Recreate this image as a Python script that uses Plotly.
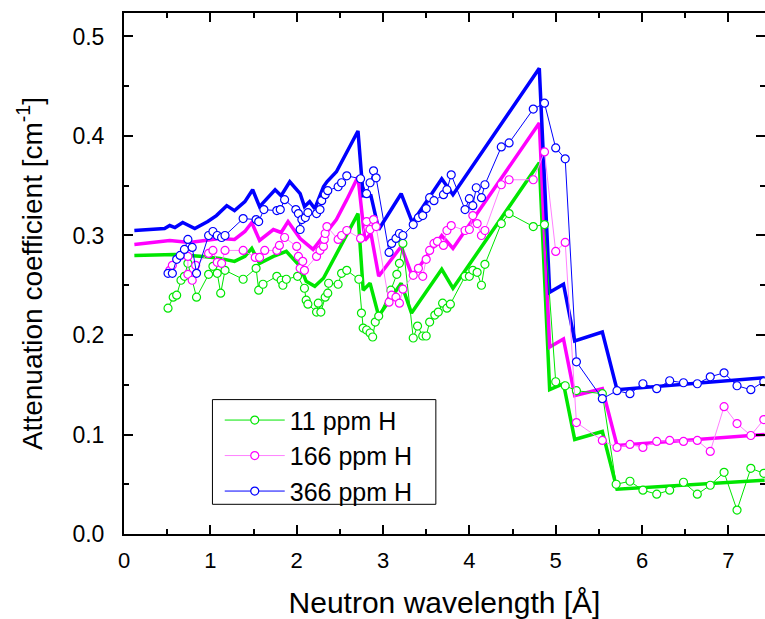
import plotly.graph_objects as go

# Theoretical (thick) curves
x_th_blue = [0.12,0.34,0.47,0.53,0.59,0.68,0.82,0.97,1.07,1.19,1.28,1.40,1.49,1.57,1.75,1.82,1.92,2.04,2.09,2.15,
             2.21,2.31,2.35,2.46,2.58,2.71,2.77,2.86,2.95,3.21,3.34,3.68,3.81,4.81,4.93,5.09,5.22,5.54,5.71,7.42]
y_th_blue = [0.305,0.306,0.307,0.310,0.308,0.313,0.307,0.314,0.320,0.330,0.325,0.334,0.346,0.329,0.346,0.340,0.354,0.342,0.329,0.334,
             0.327,0.349,0.354,0.364,0.383,0.405,0.340,0.340,0.306,0.342,0.313,0.357,0.341,0.468,0.243,0.251,0.194,0.203,0.145,0.157]
x_th_mag = [0.12,0.53,0.76,1.11,1.28,1.40,1.48,1.57,1.73,1.82,1.90,2.04,2.19,2.27,2.46,2.58,2.71,2.79,2.86,2.95,
            3.21,3.34,3.68,3.81,4.81,4.93,5.09,5.22,5.54,5.71,7.42]
y_th_mag = [0.291,0.295,0.293,0.297,0.296,0.304,0.313,0.295,0.306,0.303,0.314,0.297,0.286,0.295,0.316,0.336,0.359,0.295,0.302,0.259,
            0.289,0.259,0.300,0.287,0.413,0.188,0.196,0.139,0.146,0.089,0.100]
x_th_green = [0.12,0.59,0.92,1.11,1.28,1.40,1.48,1.57,1.73,1.88,2.04,2.11,2.21,2.31,2.71,2.77,2.85,2.95,3.21,3.33,
              3.68,3.81,4.81,4.93,5.09,5.22,5.54,5.71,7.42]
y_th_green = [0.280,0.281,0.279,0.277,0.274,0.279,0.287,0.272,0.279,0.284,0.269,0.254,0.249,0.257,0.322,0.245,0.252,0.219,0.252,0.222,
              0.266,0.247,0.373,0.145,0.151,0.095,0.103,0.045,0.054]

# Measured (circles)
x_11 = [0.51,0.57,0.61,0.66,0.70,0.74,0.84,0.98,1.03,1.08,1.12,1.17,1.38,1.53,1.56,1.61,1.77,1.82,1.84,1.88,
        2.01,2.09,2.11,2.13,2.23,2.25,2.28,2.33,2.36,2.37,2.48,2.52,2.58,2.72,2.75,2.77,2.81,2.85,2.88,2.91,2.95,
        3.09,3.16,3.19,3.23,3.35,3.40,3.46,3.50,3.54,3.60,3.64,3.69,3.74,3.78,3.95,4.00,4.04,4.09,4.14,4.18,
        4.37,4.46,4.74,4.87,5.00,5.11,5.24,5.54,5.70,5.86,6.01,6.17,6.32,6.48,6.64,6.79,6.95,7.10,7.26,7.41]
y_11 = [0.227,0.238,0.240,0.255,0.259,0.272,0.238,0.261,0.269,0.262,0.242,0.265,0.256,0.267,0.245,0.251,0.259,0.255,0.250,0.256,
        0.259,0.247,0.235,0.231,0.223,0.232,0.223,0.238,0.242,0.252,0.251,0.262,0.265,0.256,0.222,0.207,0.205,0.202,0.198,0.213,0.219,
        0.245,0.261,0.272,0.292,0.197,0.209,0.199,0.199,0.213,0.220,0.223,0.232,0.227,0.231,0.259,0.259,0.265,0.263,0.250,0.271,
        0.312,0.322,0.309,0.311,0.153,0.149,0.144,0.141,0.050,0.053,0.044,0.040,0.044,0.052,0.040,0.049,0.062,0.024,0.066,0.061]
x_166 = [0.53,0.56,0.74,0.74,0.79,0.83,0.98,1.03,1.08,1.13,1.17,1.38,1.52,1.57,1.63,1.77,1.80,1.86,2.00,2.02,2.04,2.07,2.09,
         2.23,2.27,2.31,2.32,2.33,2.35,2.48,2.52,2.58,2.74,2.81,2.85,2.89,2.92,3.07,3.10,3.15,3.19,3.23,3.35,3.41,3.46,3.50,
         3.54,3.59,3.63,3.70,3.74,3.79,3.95,4.00,4.04,4.09,4.14,4.18,4.37,4.46,4.74,4.87,5.00,5.11,5.24,5.54,5.71,5.86,6.01,
         6.17,6.32,6.48,6.64,6.79,6.95,7.10,7.26,7.41]
y_166 = [0.265,0.270,0.279,0.261,0.255,0.270,0.282,0.285,0.273,0.272,0.285,0.285,0.278,0.278,0.285,0.285,0.290,0.298,0.289,0.279,0.267,0.274,0.265,
         0.279,0.285,0.289,0.296,0.302,0.309,0.296,0.300,0.305,0.297,0.314,0.306,0.316,0.309,0.233,0.240,0.238,0.232,0.246,0.260,0.267,0.259,0.276,
         0.285,0.292,0.294,0.290,0.305,0.310,0.305,0.306,0.320,0.312,0.300,0.305,0.351,0.356,0.356,0.384,0.284,0.293,0.112,0.094,0.087,0.090,0.087,
         0.093,0.094,0.093,0.094,0.083,0.128,0.111,0.099,0.115]
x_366 = [0.51,0.56,0.61,0.65,0.70,0.74,0.79,0.84,0.98,1.03,1.08,1.13,1.17,1.38,1.53,1.56,1.62,1.77,1.81,1.86,
         1.99,2.02,2.04,2.06,2.10,2.13,2.23,2.27,2.29,2.33,2.36,2.48,2.52,2.58,2.74,2.81,2.85,2.89,2.92,
         3.07,3.10,3.15,3.19,3.23,3.35,3.41,3.46,3.50,3.54,3.59,3.70,3.74,3.79,3.95,4.00,4.04,4.08,4.14,4.18,
         4.37,4.46,4.74,4.87,5.00,5.11,5.24,5.54,5.71,5.86,6.01,6.17,6.32,6.48,6.64,6.79,6.95,7.10,7.26,7.41]
y_366 = [0.262,0.262,0.276,0.280,0.286,0.296,0.288,0.262,0.300,0.304,0.300,0.298,0.300,0.317,0.316,0.314,0.326,0.325,0.326,0.336,
         0.326,0.322,0.306,0.316,0.318,0.323,0.322,0.326,0.335,0.341,0.345,0.349,0.353,0.360,0.357,0.342,0.353,0.365,0.358,
         0.283,0.292,0.297,0.302,0.300,0.311,0.318,0.320,0.327,0.338,0.335,0.341,0.346,0.361,0.326,0.337,0.330,0.348,0.338,0.351,
         0.389,0.393,0.427,0.433,0.388,0.377,0.173,0.136,0.144,0.141,0.151,0.146,0.154,0.152,0.151,0.158,0.162,0.149,0.145,0.153]

names = ["11 ppm H", "166 ppm H", "366 ppm H"]
GREEN, MAG, BLUE = "#00e600", "#ff00ff", "#0000ff"
FONT = "Liberation Sans, Arial, sans-serif"

fig = go.Figure()
for xs, ys, c in [(x_th_green, y_th_green, GREEN), (x_th_mag, y_th_mag, MAG), (x_th_blue, y_th_blue, BLUE)]:
    fig.add_trace(go.Scatter(x=xs, y=ys, mode="lines", line=dict(color=c, width=3.5),
                             showlegend=False, hoverinfo="skip"))
for xs, ys, c, n, lc in [(x_11, y_11, GREEN, names[0], GREEN), (x_166, y_166, MAG, names[1], "#ff80ff"),
                         (x_366, y_366, BLUE, names[2], BLUE)]:
    fig.add_trace(go.Scatter(x=xs, y=ys, mode="lines+markers", name=n,
                             line=dict(color=lc, width=1),
                             marker=dict(symbol="circle", size=8, color="white",
                                         line=dict(color=c, width=1.2))))
# right-side inward ticks (no line)
fig.add_trace(go.Scatter(x=[None], y=[None], yaxis="y2", showlegend=False))

# legend frame (paper coordinates of the plot area)
L, T, B, R = 124.3, 12.7, 533.7, 765.0
def px(xp): return (xp - L) / (R - L)
def py(yp): return (B - yp) / (B - T)

tick_common = dict(ticks="inside", ticklen=9, tickwidth=1.5, tickcolor="black",
                   showgrid=False, zeroline=False, automargin=False)
fig.update_layout(
    width=765, height=619,
    margin=dict(l=124, r=0, t=13, b=85, autoexpand=False),
    plot_bgcolor="white", paper_bgcolor="white",
    font=dict(family=FONT, color="black"),
    xaxis=dict(range=[0, 7.424], dtick=1, tick0=0, showline=True, linewidth=2, linecolor="black",
               mirror="ticks", tickfont=dict(size=22), ticklabelstandoff=6,
               minor=dict(dtick=0.5, ticks="inside", ticklen=5, tickwidth=1.5, tickcolor="black"),
               title=dict(text="Neutron wavelength [Å]", font=dict(size=30), standoff=23),
               **tick_common),
    yaxis=dict(range=[0, 0.5236], dtick=0.1, tick0=0, tickformat=".1f", showline=True, linewidth=2,
               linecolor="black", mirror=False, tickfont=dict(size=23), ticklabelstandoff=13,
               minor=dict(dtick=0.05, ticks="inside", ticklen=5, tickwidth=1.5, tickcolor="black"),
               title=dict(text="Attenuation coefficient [cm<sup>-1</sup>]", font=dict(size=28), standoff=22),
               **tick_common),
    yaxis2=dict(range=[0, 0.5236], dtick=0.1, tick0=0, overlaying="y", side="right", showline=False,
                showticklabels=False,
                minor=dict(dtick=0.05, ticks="inside", ticklen=5, tickwidth=1.5, tickcolor="black"),
                **tick_common),
    shapes=[dict(type="rect", xref="paper", yref="paper", x0=px(212.7), x1=px(436), y0=py(504), y1=py(399.3),
                 line=dict(color="black", width=1), fillcolor="white", layer="above")],
    legend=dict(x=px(220), y=py(397), xanchor="left", yanchor="top", bgcolor="rgba(0,0,0,0)",
                borderwidth=0, font=dict(size=25), itemwidth=60, traceorder="normal"),
    showlegend=True,
)
fig.write_html("out.html", config={"displayModeBar": False},
               post_script="document.body.style.margin='0';document.body.style.overflow='hidden';")
